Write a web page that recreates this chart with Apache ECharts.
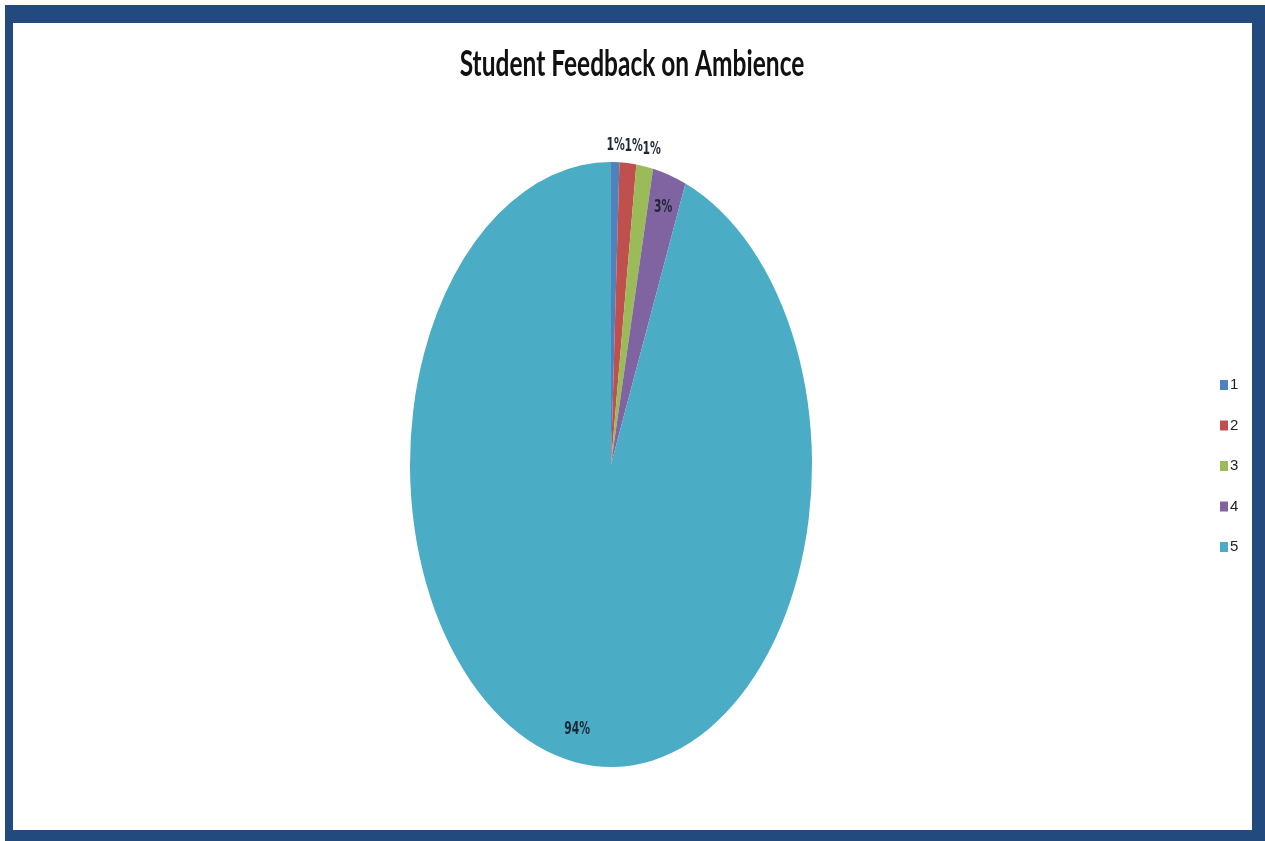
<!DOCTYPE html>
<html>
<head>
<meta charset="utf-8">
<script src="https://cdn.jsdelivr.net/npm/echarts@6/dist/echarts.min.js"></script>
<style>
html,body{margin:0;padding:0;background:#fff;}
#chart{width:1265px;height:841px;}
</style>
</head>
<body>
<div id="chart"></div>
<script>
// ---- data ----
const titleText = 'Student Feedback on Ambience';
const categories = ['1', '2', '3', '4', '5'];
const values = [1, 2, 2, 4, 140];
const colors = ['#4F81BD', '#C0504D', '#9BBB59', '#8064A2', '#4BACC6'];

// ---- layout ----
const CX = 611, CY = 464.5, RX = 201, RY = 302.5;
const SY = RY / RX; // vertical stretch of the original picture
const LABEL_FONT = 'bold 12px "Liberation Sans Narrow", "DejaVu Sans Condensed", sans-serif';

const total = values.reduce((a, b) => a + b, 0);

function computeLayout() {
  const out = [];
  let cum = 0;
  let lastOutsideX = -Infinity;
  values.forEach((v, i) => {
    const f0 = cum / total, f1 = (cum + v) / total;
    cum += v;
    const a0 = -Math.PI / 2 + 2 * Math.PI * f0;
    const a1 = -Math.PI / 2 + 2 * Math.PI * f1;
    const mid = (a0 + a1) / 2;
    const frac = v / total;
    let lx, ly;
    if (frac >= 0.02) {
      lx = CX + RX * 0.89 * Math.cos(mid);
      ly = CY + RY * 0.89 * Math.sin(mid);
    } else {
      lx = CX + RX * Math.cos(mid) + 17 * Math.cos(mid);
      ly = CY + RY * Math.sin(mid) + 17 * Math.sin(mid);
      if (lx < lastOutsideX + 18) lx = lastOutsideX + 18;
      lastOutsideX = lx;
    }
    out.push({ a0, a1, lx, ly, pct: Math.round(frac * 100) + '%' });
  });
  return out;
}
const layout = computeLayout();

function renderItem(params, api) {
  const L = layout[params.seriesIndex];
  return {
    type: 'group',
    children: [
      {
        type: 'sector',
        x: CX, y: CY, scaleY: SY,
        shape: { cx: 0, cy: 0, r0: 0, r: RX, startAngle: L.a0, endAngle: L.a1, clockwise: true },
        style: { fill: api.visual('color') }
      },
      {
        type: 'text',
        x: L.lx, y: L.ly, scaleY: SY, z2: 10,
        style: {
          text: L.pct, x: 0, y: 0,
          align: 'center', verticalAlign: 'middle',
          font: LABEL_FONT, fill: '#1e2733'
        }
      }
    ]
  };
}

const chart = echarts.init(document.getElementById('chart'), null, { renderer: 'canvas' });
chart.setOption({
  animation: false,
  backgroundColor: '#ffffff',
  graphic: {
    elements: [
      { type: 'rect', z: -10, shape: { x: 5, y: 5, width: 1260, height: 836 }, style: { fill: '#224A7E' } },
      { type: 'rect', z: -9, shape: { x: 13, y: 23, width: 1239, height: 807 }, style: { fill: '#ffffff' } },
      {
        type: 'text', z: 10, x: 632, y: 64, scaleY: SY,
        style: {
          text: titleText, x: 0, y: 0, align: 'center', verticalAlign: 'middle',
          font: 'bold 24.5px Lato, "Open Sans", sans-serif', fill: '#111111'
        }
      }
    ]
  },
  legend: {
    orient: 'vertical',
    left: 1220,
    top: 377,
    padding: 0,
    itemWidth: 8,
    itemHeight: 10,
    itemGap: 24.5,
    icon: 'rect',
    data: categories,
    textStyle: { fontSize: 15, lineHeight: 16, color: '#222', fontFamily: '"Liberation Sans Narrow", sans-serif', padding: [0, 0, 0, -3] }
  },
  series: categories.map((name, i) => ({
    type: 'custom',
    name: name,
    coordinateSystem: 'none',
    itemStyle: { color: colors[i] },
    renderItem: renderItem,
    data: [[values[i]]]
  }))
});
</script>
</body>
</html>
